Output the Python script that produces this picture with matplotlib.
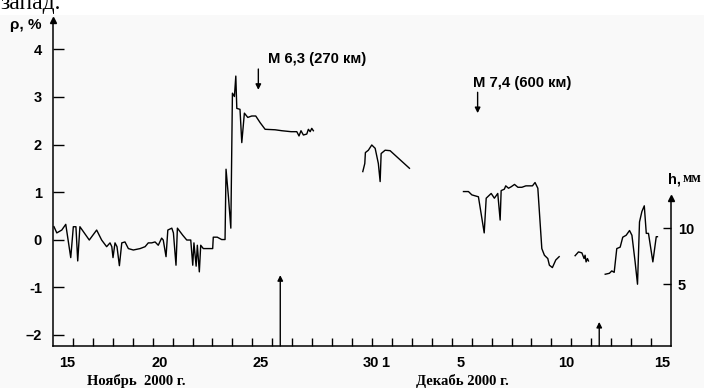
import numpy as np
import matplotlib
matplotlib.use("Agg")
import matplotlib.pyplot as plt
from matplotlib.patches import Rectangle

plt.rcParams['font.family'] = ['Liberation Sans', 'DejaVu Sans']

# days counted from 15 Nov 2000 00:00
seg1_day = [0.05, 0.19, 0.44, 0.64, 0.89, 1.02, 1.15, 1.24, 1.35, 1.82, 2.19, 2.44, 2.69, 2.86,
            2.95, 3.01, 3.11, 3.21, 3.33, 3.45, 3.61, 3.78, 4.03, 4.37, 4.62, 4.78, 4.95, 5.12,
            5.28, 5.45, 5.53, 5.67, 5.76, 5.96, 6.04, 6.17, 6.24, 6.51, 6.71, 6.91, 7.01, 7.07,
            7.18, 7.24, 7.34, 7.41, 7.54, 7.79, 8.01, 8.04, 8.24, 8.46, 8.63, 8.68, 8.80, 8.92,
            9.00, 9.10, 9.17, 9.22, 9.38, 9.47, 9.60, 9.77, 9.97, 10.17, 10.39, 10.64, 11.14,
            11.48, 11.94, 12.23, 12.34, 12.44, 12.56, 12.73, 12.81, 12.90, 12.98, 13.06]
seg1_rho = [0.27, 0.14, 0.20, 0.32, -0.38, 0.27, 0.27, -0.45, 0.27, -0.01, 0.20, -0.01, -0.15, -0.07,
            -0.15, -0.38, -0.07, -0.15, -0.55, -0.07, -0.05, -0.19, -0.22, -0.19, -0.15, -0.07, -0.07, -0.05,
            -0.12, 0.03, -0.01, -0.36, 0.20, 0.24, 0.14, -0.54, 0.24, 0.09, -0.01, -0.01, -0.54, -0.07,
            -0.56, -0.12, -0.68, -0.12, -0.19, -0.19, -0.19, 0.05, 0.05, 0.00, 0.00, 1.48, 0.90, 0.24,
            3.08, 3.01, 3.44, 2.76, 2.74, 2.04, 2.66, 2.57, 2.60, 2.60, 2.46, 2.32, 2.31,
            2.29, 2.27, 2.27, 2.18, 2.29, 2.20, 2.22, 2.32, 2.27, 2.34, 2.29]

seg2_day = [15.54, 15.64, 15.67, 15.82, 15.99, 16.16, 16.32, 16.41, 16.46, 16.66, 16.91, 17.25, 17.88]
seg2_rho = [1.43, 1.60, 1.83, 1.88, 1.99, 1.92, 1.60, 1.22, 1.81, 1.88, 1.87, 1.74, 1.50]

seg3_day = [20.59, 20.84, 21.01, 21.34, 21.63, 21.73, 21.98, 22.14, 22.31, 22.43, 22.48, 22.64, 22.71,
            22.85, 22.98, 23.15, 23.32, 23.52, 23.72, 24.05, 24.18, 24.32, 24.52, 24.65, 24.82, 24.90,
            25.05, 25.22, 25.39]
seg3_rho = [1.01, 1.01, 0.94, 0.90, 0.14, 0.87, 0.97, 0.87, 0.97, 0.41, 1.03, 1.06, 1.13,
            1.08, 1.11, 1.16, 1.10, 1.10, 1.13, 1.13, 1.20, 1.08, -0.19, -0.33, -0.40, -0.54,
            -0.59, -0.43, -0.36]

seg4_day = [26.19, 26.36, 26.53, 26.64, 26.69, 26.74, 26.81, 26.86]
seg4_rho = [-0.34, -0.26, -0.28, -0.40, -0.33, -0.47, -0.40, -0.45]

seg5_day = [27.70, 27.91, 28.03, 28.15, 28.28, 28.45, 28.58, 28.75, 28.92, 29.04, 29.20, 29.32, 29.42,
            29.54, 29.66, 29.76, 29.87, 30.09, 30.26, 30.32]
seg5_rho = [-0.73, -0.71, -0.66, -0.69, -0.19, -0.16, 0.05, 0.09, 0.19, 0.09, -0.47, -0.94, 0.37,
            0.59, 0.71, 0.13, 0.13, -0.47, 0.06, 0.06]

segments = [(seg1_day, seg1_rho), (seg2_day, seg2_rho), (seg3_day, seg3_rho),
            (seg4_day, seg4_rho), (seg5_day, seg5_rho)]

# earthquakes
quake_day = [10.3, 21.3]
quake_rho = [3.15, 2.66]
quake_text = ["M 6,3 (270 км)", "M 7,4 (600 км)"]
quake_text_day = [10.79, 21.07]
quake_text_rho = [3.80, 3.29]

# precipitation, mm
rain_day = [11.4, 27.4]
rain_h = [5.8, 1.6]

rho_ticks = [4, 3, 2, 1, 0, -1, -2]
rho_ticklabels = ["4", "3", "2", "1", "0", "-1", "–2"]
h_ticks = [5, 10]
day_label_pos = [0.69, 5.37, 10.39, 15.97, 16.66, 20.47, 25.74, 30.54]
day_labels = ["15", "20", "25", "30", "1", "5", "10", "15"]

W, H = 704, 388
fig = plt.figure(figsize=(W / 100, H / 100), dpi=100, facecolor='#f9f9f9')
fig.patches.append(Rectangle((0, 1 - 15 / H), 1, 15 / H, transform=fig.transFigure,
                             facecolor='white', edgecolor='none', zorder=0))
fig.text(0.0, 1 - 9 / H, "запад.", family='Liberation Serif', fontsize=17,
         ha='left', va='baseline')

ax = fig.add_axes([53 / W, (H - 346) / H, (671 - 53) / W, 326 / H])
ax.set_facecolor('none')
ax.set_xlim(0, 31)
ax.set_ylim(-2.24, 4.62)

for d, r in segments:
    ax.plot(d, r, color='black', lw=1.0)

for k in range(2):
    ax.annotate('', xy=(quake_day[k], quake_rho[k]), xytext=(0, 15), textcoords='offset points',
                arrowprops=dict(arrowstyle='-|>', color='black', lw=1.0,
                                mutation_scale=8, shrinkA=0, shrinkB=0))
    ax.text(quake_text_day[k], quake_text_rho[k], quake_text[k], fontsize=10.7,
            fontweight='bold', ha='left', va='center')

for s in ['top', 'right']:
    ax.spines[s].set_visible(False)
for s in ['left', 'bottom']:
    ax.spines[s].set_linewidth(1.1)
ax.plot(0, 1, '^k', ms=5, transform=ax.transAxes, clip_on=False)

ax.set_yticks(rho_ticks)
ax.set_yticklabels(rho_ticklabels, fontsize=10.5, fontweight='bold')
ax.tick_params(axis='y', direction='in', length=8, width=1.0, pad=8)

ax.set_xticks(np.arange(1, 31))
ax.set_xticklabels([])
ax.tick_params(axis='x', which='major', direction='in', length=6, width=1.0)
ax.set_xticks(day_label_pos, minor=True)
ax.set_xticklabels(day_labels, minor=True, fontsize=10.5, fontweight='bold')
ax.tick_params(axis='x', which='minor', length=0, pad=7)

# right axis for precipitation h
ax2 = ax.twinx()
h_lo = (-2.24 + 2.108) / 0.2343
h_hi = (4.62 + 2.108) / 0.2343
ax2.set_ylim(h_lo, h_hi)
for s in ['top', 'left', 'bottom']:
    ax2.spines[s].set_visible(False)
ax2.spines['right'].set_bounds(h_lo, 12.7)
ax2.spines['right'].set_linewidth(1.1)
ax2.plot(31, 12.7, '^k', ms=5, clip_on=False)
ax2.set_yticks(h_ticks)
ax2.set_yticklabels([str(t) for t in h_ticks], fontsize=10.5, fontweight='bold')
ax2.tick_params(axis='y', direction='in', length=6, width=1.0, pad=5)

for d, hv in zip(rain_day, rain_h):
    ax2.annotate('', xy=(d, hv), xytext=(d, h_lo),
                 arrowprops=dict(arrowstyle='-|>', color='black', lw=1.0,
                                 mutation_scale=8, shrinkA=0, shrinkB=0))

fig.text(10 / W, 1 - 25 / H, "ρ, %", fontsize=11, fontweight='bold', ha='left', va='center')
fig.text(668 / W, 1 - 179 / H, "h,", fontsize=10.5, fontweight='bold', ha='left', va='center')
fig.text(683 / W, 1 - 179 / H, "мм", family='Liberation Serif', fontsize=10,
         fontweight='bold', ha='left', va='center')

fig.text(136 / W, 1 - 381 / H, "Ноябрь  2000 г.", family='Liberation Serif', fontsize=10.5,
         fontweight='bold', ha='center', va='center')
fig.text(462 / W, 1 - 381 / H, "Декабь 2000 г.", family='Liberation Serif', fontsize=10.5,
         fontweight='bold', ha='center', va='center')

fig.savefig("out.png", dpi=100, facecolor=fig.get_facecolor())
